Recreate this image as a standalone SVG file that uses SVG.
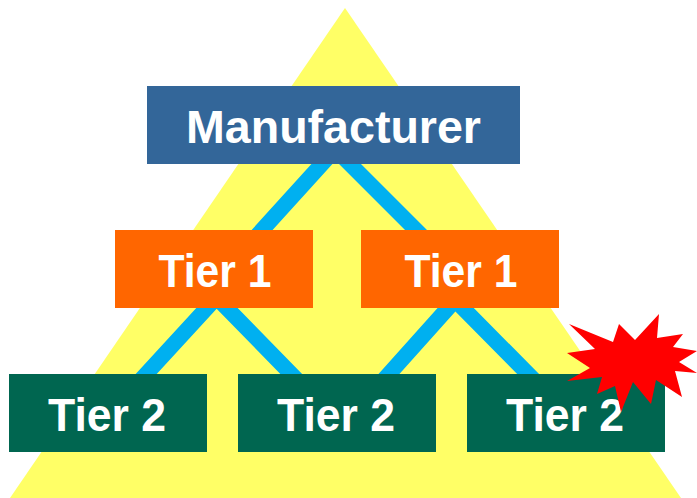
<svg xmlns="http://www.w3.org/2000/svg" width="697" height="498" viewBox="0 0 697 498">
<style>
.c{stroke:#00b0f0;stroke-width:15.5;fill:none}
.t{font-family:"Liberation Sans",Arial,sans-serif;font-weight:700;fill:#fff;text-anchor:middle;font-size:47px}
</style>
<rect width="697" height="498" fill="#fff"/>
<polygon points="345,8 681,498 10,498" fill="#ffff66"/>
<g id="connectors">
<path class="c" d="M331,154 L253,240M340,154 L426,240M216,298 L137,384M217,298 L301,384M457,298 L380,384M453,298 L538,384"/>
</g>
<g id="manufacturer"><rect x="147" y="86" width="373" height="78" fill="#336699"/><text class="t" x="333.5" y="143" textLength="295" lengthAdjust="spacingAndGlyphs">Manufacturer</text></g>
<g id="tier1a"><rect x="115" y="230" width="198" height="78" fill="#ff6600"/><text class="t" x="215" y="287" textLength="113" lengthAdjust="spacingAndGlyphs">Tier 1</text></g>
<g id="tier1b"><rect x="361" y="230" width="198" height="78" fill="#ff6600"/><text class="t" x="461" y="287" textLength="113" lengthAdjust="spacingAndGlyphs">Tier 1</text></g>
<g id="tier2a"><rect x="9" y="374" width="198" height="78" fill="#006650"/><text class="t" x="107" y="431" textLength="118" lengthAdjust="spacingAndGlyphs">Tier 2</text></g>
<g id="tier2b"><rect x="238" y="374" width="198" height="78" fill="#006650"/><text class="t" x="336" y="431" textLength="118" lengthAdjust="spacingAndGlyphs">Tier 2</text></g>
<g id="tier2c"><rect x="467" y="374" width="198" height="78" fill="#006650"/><text class="t" x="565" y="431" textLength="118" lengthAdjust="spacingAndGlyphs">Tier 2</text></g>
<polygon id="burst" points="569,324 613,342 619,324 635,340 659,314 657,338 683,334 673,347 697,351 679,362 697,373 675,371 682,397 656,380 651,404 633,382 621,412 615,386 597,394 602,377 567,381 590,368 567,353 595,349" fill="#ff0000"/>
</svg>
